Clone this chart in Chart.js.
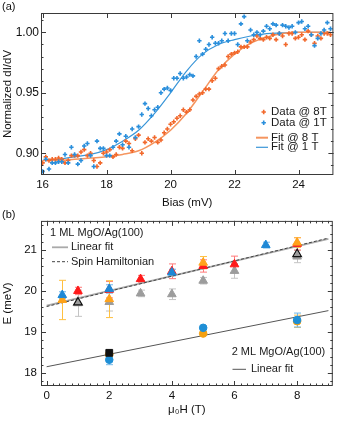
<!DOCTYPE html>
<html><head><meta charset="utf-8">
<script src="https://cdn.jsdelivr.net/npm/chart.js@4/dist/chart.umd.min.js"></script>
<style>
html,body{margin:0;padding:0;background:#fff;}
#wrap{position:relative;width:339px;height:421px;overflow:hidden;font-family:"Liberation Sans",Arial,Helvetica,sans-serif;}
canvas{position:absolute;left:0;}
#ca{top:0;} #cb{top:210px;}
.lab{position:absolute;left:2px;font-size:11px;color:#111;}
</style></head><body>
<div id="wrap">
<canvas id="ca" width="339" height="210"></canvas>
<canvas id="cb" width="339" height="211"></canvas>
<div class="lab" style="top:0px">(a)</div>
<div class="lab" style="top:208px">(b)</div>
</div>
<script>
const FONT = '"Liberation Sans", Arial, Helvetica, sans-serif';

// ---------- Panel (a) data ----------
const bias = [
16.0,16.1,16.2,16.3,16.4,16.5,16.6,16.7,16.8,16.9,
17.0,17.1,17.2,17.3,17.4,17.5,17.6,17.7,17.8,17.9,
18.0,18.1,18.2,18.3,18.4,18.5,18.6,18.7,18.8,18.9,
19.0,19.1,19.2,19.3,19.4,19.5,19.6,19.7,19.8,19.9,
20.0,20.1,20.2,20.3,20.4,20.5,20.6,20.7,20.8,20.9,
21.0,21.1,21.2,21.3,21.4,21.5,21.6,21.7,21.8,21.9,
22.0,22.1,22.2,22.3,22.4,22.5,22.6,22.7,22.8,22.9,
23.0,23.1,23.2,23.3,23.4,23.5,23.6,23.7,23.8,23.9,
24.0,24.1,24.2,24.3,24.4,24.5,24.6,24.7,24.8,24.9,
25.0];
const dIdV8T = [
0.892,0.897,0.894,0.895,0.895,0.896,0.895,0.892,0.894,0.898,
0.898,0.898,0.901,0.903,0.898,0.900,0.894,0.889,0.892,0.900,
0.901,0.903,0.897,0.899,0.905,0.904,0.910,0.908,0.902,0.912,
0.915,0.900,0.909,0.912,0.910,0.913,0.909,0.911,0.917,0.920,
0.924,0.926,0.929,0.931,0.936,0.934,0.936,0.944,0.947,0.949,
0.950,0.953,0.953,0.960,0.962,0.970,0.972,0.973,0.980,0.982,
0.983,0.984,0.988,0.988,0.988,0.992,0.994,0.997,0.995,0.994,
0.996,0.995,0.998,0.994,0.999,0.997,0.990,0.999,0.999,0.995,
0.996,0.998,0.994,1.001,0.998,0.991,0.997,0.995,0.999,0.999,
0.998];
const dIdV1T = [
0.885,0.895,0.887,0.892,0.892,0.893,0.893,0.899,0.892,0.905,
0.899,0.891,0.894,0.906,0.908,0.898,0.889,0.910,0.904,0.904,
0.898,0.898,0.905,0.910,0.916,0.907,0.914,0.905,0.920,0.913,
0.922,0.932,0.941,0.937,0.931,0.936,0.938,0.950,0.953,0.954,
0.952,0.962,0.962,0.966,0.962,0.963,0.965,0.964,0.980,0.993,
0.982,0.986,0.990,0.996,0.991,0.991,0.993,0.999,0.993,0.999,
0.999,0.990,1.007,1.013,0.993,1.002,0.998,1.000,0.998,1.001,
1.005,1.003,1.007,1.006,0.999,1.006,1.005,1.004,1.005,1.000,
1.008,1.009,1.003,1.005,0.998,0.989,0.995,0.999,1.002,1.008,
1.003];
const fitBias = [16,16.5,17,17.5,18,18.5,19,19.5,20,20.5,21,21.5,22,22.5,23,23.5,24,24.5,25];
const fit8T = [0.894,0.894,0.895,0.896,0.897,0.899,0.902,0.909,0.919,0.933,0.951,0.969,0.982,0.991,0.996,0.999,1.000,1.000,1.000];
const fit1T = [0.894,0.895,0.897,0.899,0.903,0.910,0.919,0.933,0.950,0.968,0.982,0.990,0.994,0.997,0.999,0.9995,1.000,1.000,1.000];
const biasTicks = [16,18,20,22,24];
const dIdVTicks = [0.90,0.95,1.00];

// ---------- Panel (b) data ----------
const blueTriH = [0.5,2,4,7];
const blueTriE = [19.90,20.05,20.45,21.12];
const blueTriErr = [0.08,0.10,0.08,0.07];
const redTriH = [1,2,3,4,5,6,8];
const redTriE = [20.00,20.03,20.29,20.48,20.61,20.65,21.15];
const redTriErr = [0.09,0.20,0.09,0.18,0.15,0.20,0.15];
const orangeTriH = [0.5,2,5,8];
const orangeTriE = [19.78,19.80,20.69,21.18];
const orangeTriErr = [0.48,0.45,0.15,0.12];
const greyTriH = [1,2,3,4,5,6,8];
const greyTriE = [19.70,19.73,19.94,19.92,20.25,20.49,20.84];
const greyTriErr = [0.32,0.22,0.08,0.13,0.08,0.18,0.15];
const blackTriH = [1,8];
const blackTriE = [19.72,20.90];
const blackSqH = [2];
const blackSqE = [18.49];
const orangeCircH = [2,5,8];
const orangeCircE = [18.45,18.96,19.26];
const orangeCircErr = [0.04,0.04,0.15];
const blueCircH = [2,5,8];
const blueCircE = [18.32,19.10,19.29];
const blueCircErr = [0.12,0.04,0.17];
const fitH = [0,9];
const fit1ML = [19.64,21.27];
const spin1ML = [19.62,21.29];
const fit2ML = [18.15,19.52];
const fieldTicks = [0,2,4,6,8];
const energyTicks = [18,19,20,21];

const pts = (xs, ys) => xs.map((x, i) => ({x: x, y: ys[i]}));

// ---------- plugins ----------
const errorBars = {
  id: 'errorBars',
  beforeDatasetsDraw(chart) {
    const {ctx, scales: {x, y}} = chart;
    ctx.save();
    const list = chart.data.datasets.filter(d => d.errors).sort((a, b) => (b.order || 0) - (a.order || 0));
    list.forEach(ds => {
      ctx.strokeStyle = ds.errorColor; ctx.lineWidth = 1;
      ds.data.forEach((p, i) => {
        const e = ds.errors[i];
        const px = Math.round(x.getPixelForValue(p.x)) + 0.5;
        const y1 = y.getPixelForValue(p.y - e), y2 = y.getPixelForValue(p.y + e);
        ctx.beginPath();
        ctx.moveTo(px, y1); ctx.lineTo(px, y2);
        ctx.moveTo(px - 3.5, y1); ctx.lineTo(px + 3.5, y1);
        ctx.moveTo(px - 3.5, y2); ctx.lineTo(px + 3.5, y2);
        ctx.stroke();
      });
    });
    ctx.restore();
  }
};

const frameTicks = {
  id: 'frameTicks',
  afterDatasetsDraw(chart, args, o) {
    const {ctx, chartArea: a, scales: {x, y}} = chart;
    ctx.save();
    ctx.strokeStyle = '#3a3a3a'; ctx.lineWidth = 1;
    ctx.strokeRect(a.left + 0.5, a.top + 0.5, a.right - a.left - 1, a.bottom - a.top - 1);
    ctx.beginPath();
    const tx = (v, len, top) => { const p = Math.round(x.getPixelForValue(v)) + 0.5;
      ctx.moveTo(p, a.bottom); ctx.lineTo(p, a.bottom - len);
      if (top) { ctx.moveTo(p, a.top); ctx.lineTo(p, a.top + len); } };
    const ty = (v, len) => { const p = Math.round(y.getPixelForValue(v)) + 0.5;
      ctx.moveTo(a.left, p); ctx.lineTo(a.left + len, p);
      ctx.moveTo(a.right, p); ctx.lineTo(a.right - len, p); };
    o.xMajor.forEach(v => tx(v, 5, true));
    o.yMajor.forEach(v => ty(v, 5));
    if (o.xMinor) for (let k = 0; k <= o.xMinor.n; k++) tx(o.xMinor.start + k * o.xMinor.step, 2.5, true);
    if (o.yMinor) for (let k = 0; k <= o.yMinor.n; k++) ty(o.yMinor.start + k * o.yMinor.step, 2.5);
    ctx.stroke();
    ctx.restore();
  }
};

const customLegend = {
  id: 'customLegend',
  afterDraw(chart, args, o) {
    const ctx = chart.ctx;
    ctx.save();
    ctx.font = o.font; ctx.textBaseline = 'middle';
    o.items.forEach(it => {
      if (it.mark === 'cross') {
        ctx.strokeStyle = it.color; ctx.lineWidth = 1.6; ctx.beginPath();
        ctx.moveTo(it.mx - 2.2, it.y); ctx.lineTo(it.mx + 2.2, it.y);
        ctx.moveTo(it.mx, it.y - 2.2); ctx.lineTo(it.mx, it.y + 2.2); ctx.stroke();
      } else if (it.mark === 'line') {
        ctx.strokeStyle = it.color; ctx.lineWidth = it.width; ctx.setLineDash(it.dash || []);
        ctx.beginPath(); ctx.moveTo(it.x1, it.y); ctx.lineTo(it.x2, it.y); ctx.stroke(); ctx.setLineDash([]);
      }
      ctx.fillStyle = '#1a1a1a';
      ctx.fillText(it.text, it.tx, it.y);
    });
    ctx.restore();
  }
};

// ---------- colours ----------
const C = {
  orange: '#f2692c', orangeFit: '#f5955f', blue: '#2a8fdc', blueFit: '#3a96d8',
  bTri: '#1e88d6', bTriErr: '#6cb4ea', rTri: '#ff1a1a', rTriErr: '#ff7a7a',
  oTri: '#ffa31a', oTriErr: '#ffc040', gTri: '#9c9c9c', gTriErr: '#c4c4c4',
  oCirc: '#f5a00f', oCircErr: '#f8c050', bCirc: '#1e8fd6', bCircErr: '#74b8e8'
};

const noGrid = { display: false, drawTicks: false, drawOnChartArea: false };

// ---------- Chart (a) ----------
new Chart(document.getElementById('ca'), {
  type: 'scatter',
  data: { datasets: [
    { label: 'Data @ 8T', data: pts(bias, dIdV8T), pointStyle: 'cross', pointRadius: 2.2,
      pointBorderColor: C.orange, pointBorderWidth: 1.6, borderColor: C.orange, showLine: false, order: 2 },
    { label: 'Data @ 1T', data: pts(bias, dIdV1T), pointStyle: 'cross', pointRadius: 2.2,
      pointBorderColor: C.blue, pointBorderWidth: 1.6, borderColor: C.blue, showLine: false, order: 1 },
    { type: 'line', label: 'Fit @ 8 T', data: pts(fitBias, fit8T), borderColor: C.orangeFit, borderWidth: 1.5,
      pointRadius: 0, showLine: true, fill: false, cubicInterpolationMode: 'monotone', order: 3 },
    { type: 'line', label: 'Fit @ 1 T', data: pts(fitBias, fit1T), borderColor: C.blueFit, borderWidth: 1.2,
      pointRadius: 0, showLine: true, fill: false, cubicInterpolationMode: 'monotone', order: 3 }
  ]},
  options: {
    responsive: false, animation: false, devicePixelRatio: 1,
    layout: { padding: { top: 13, right: 3, left: 0, bottom: 0 } },
    plugins: {
      legend: { display: false }, tooltip: { enabled: false },
      frameTicks: { xMajor: biasTicks, yMajor: dIdVTicks, yMinor: { start: 0.89, step: 0.01, n: 12 } },
      customLegend: { font: '11.5px ' + FONT, items: [
        { mark: 'cross', color: C.orange, mx: 263.7, y: 112, tx: 271, text: 'Data @ 8T' },
        { mark: 'cross', color: C.blue, mx: 263.7, y: 122.7, tx: 271, text: 'Data @ 1T' },
        { mark: 'line', color: C.orangeFit, width: 2, x1: 256, x2: 268, y: 137.7, tx: 271, text: 'Fit @ 8 T' },
        { mark: 'line', color: C.blueFit, width: 1.2, x1: 256, x2: 268, y: 147.3, tx: 271, text: 'Fit @ 1 T' }
      ]}
    },
    scales: {
      x: { type: 'linear', min: 15.95, max: 25.09,
        afterBuildTicks: s => { s.ticks = biasTicks.map(v => ({value: v})); },
        afterFit: s => { s.height = 35; },
        grid: noGrid, border: { display: false },
        ticks: { font: { family: FONT, size: 11.5 }, color: '#111', padding: 3, maxRotation: 0, autoSkip: false, callback: v => String(v) },
        title: { display: true, text: 'Bias (mV)', color: '#111', font: { family: FONT, size: 11.5 }, padding: { top: 0, bottom: 0 } } },
      y: { type: 'linear', min: 0.882, max: 1.016,
        afterBuildTicks: s => { s.ticks = dIdVTicks.map(v => ({value: v})); },
        afterFit: s => { s.width = 41; },
        grid: noGrid, border: { display: false },
        ticks: { font: { family: FONT, size: 12 }, color: '#111', padding: 2, autoSkip: false, callback: v => Number(v).toFixed(2) },
        title: { display: true, text: 'Normalized dI/dV', color: '#111', font: { family: FONT, size: 11.5 }, padding: { top: 0.6, bottom: 0 } } }
    }
  },
  plugins: [frameTicks, customLegend]
});

// ---------- Chart (b) ----------
const tri = (label, xs, ys, errs, fill, errColor, order) => ({
  label, data: pts(xs, ys), errors: errs, errorColor: errColor, pointStyle: 'triangle', pointRadius: 5,
  pointBackgroundColor: fill, pointBorderColor: fill, pointBorderWidth: 1, showLine: false, order });
const circ = (label, xs, ys, errs, fill, errColor, order) => ({
  label, data: pts(xs, ys), errors: errs, errorColor: errColor, pointStyle: 'circle', pointRadius: 3.8,
  pointBackgroundColor: fill, pointBorderColor: fill, pointBorderWidth: 1, showLine: false, order });

new Chart(document.getElementById('cb'), {
  type: 'scatter',
  data: { datasets: [
    tri('1 ML blue', blueTriH, blueTriE, blueTriErr, C.bTri, C.bTriErr, 1),
    tri('1 ML orange', orangeTriH, orangeTriE, orangeTriErr, C.oTri, C.oTriErr, 2),
    tri('1 ML red', redTriH, redTriE, redTriErr, C.rTri, C.rTriErr, 3),
    { label: '1 ML black', data: pts(blackTriH, blackTriE), pointStyle: 'triangle', pointRadius: 5,
      pointBackgroundColor: 'rgba(0,0,0,0)', pointBorderColor: '#111', pointBorderWidth: 1.2, showLine: false, order: 4 },
    tri('1 ML grey', greyTriH, greyTriE, greyTriErr, C.gTri, C.gTriErr, 5),
    { label: '2 ML black', data: pts(blackSqH, blackSqE), pointStyle: 'rect', pointRadius: 4.8,
      pointBackgroundColor: '#111', pointBorderColor: '#111', pointBorderWidth: 1, showLine: false, order: 1 },
    circ('2 ML blue', blueCircH, blueCircE, blueCircErr, C.bCirc, C.bCircErr, 2),
    circ('2 ML orange', orangeCircH, orangeCircE, orangeCircErr, C.oCirc, C.oCircErr, 3),
    { type: 'line', label: 'Spin Hamiltonian', data: pts(fitH, spin1ML), borderColor: '#444', borderWidth: 1,
      borderDash: [3, 2], pointRadius: 0, showLine: true, fill: false, order: 10 },
    { type: 'line', label: 'Linear fit 1 ML', data: pts(fitH, fit1ML), borderColor: '#aaaaaa', borderWidth: 1.8,
      pointRadius: 0, showLine: true, fill: false, order: 11 },
    { type: 'line', label: 'Linear fit 2 ML', data: pts(fitH, fit2ML), borderColor: '#555', borderWidth: 1,
      pointRadius: 0, showLine: true, fill: false, order: 12 }
  ]},
  options: {
    responsive: false, animation: false, devicePixelRatio: 1,
    layout: { padding: { top: 9, right: 3, left: 0, bottom: 4 } },
    plugins: {
      legend: { display: false }, tooltip: { enabled: false },
      frameTicks: { xMajor: fieldTicks, yMajor: energyTicks,
        xMinor: { start: 0, step: 0.2, n: 45 }, yMinor: { start: 17.8, step: 0.2, n: 19 } },
      customLegend: { font: '11px ' + FONT, items: [
        { mark: 'none', y: 23, tx: 50, text: '1 ML MgO/Ag(100)' },
        { mark: 'line', color: '#aaaaaa', width: 1.8, x1: 52, x2: 68, y: 37.3, tx: 71, text: 'Linear fit' },
        { mark: 'line', color: '#444', width: 1, dash: [3, 2], x1: 52, x2: 68, y: 51.7, tx: 71, text: 'Spin Hamiltonian' },
        { mark: 'none', y: 142.3, tx: 231.7, text: '2 ML MgO/Ag(100)' },
        { mark: 'line', color: '#555', width: 1, x1: 232.5, x2: 246, y: 159.3, tx: 251, text: 'Linear fit' }
      ]}
    },
    scales: {
      x: { type: 'linear', min: -0.18, max: 9.14,
        afterBuildTicks: s => { s.ticks = fieldTicks.map(v => ({value: v})); },
        afterFit: s => { s.height = 31; },
        grid: noGrid, border: { display: false },
        ticks: { font: { family: FONT, size: 11.5 }, color: '#111', padding: 3, maxRotation: 0, autoSkip: false, callback: v => String(v) },
        title: { display: true, text: 'μ₀H (T)', color: '#111', font: { family: FONT, size: 11.5 }, padding: { top: 0, bottom: 0 } } },
      y: { type: 'linear', min: 17.68, max: 21.71,
        afterBuildTicks: s => { s.ticks = energyTicks.map(v => ({value: v})); },
        afterFit: s => { s.width = 41; },
        grid: noGrid, border: { display: false },
        ticks: { font: { family: FONT, size: 11.5 }, color: '#111', padding: 4, autoSkip: false, callback: v => String(v) },
        title: { display: true, text: 'E (meV)', color: '#111', font: { family: FONT, size: 11.5 }, padding: { top: 0.6, bottom: 0 } } }
    }
  },
  plugins: [errorBars, frameTicks, customLegend]
});
</script>
</body></html>
